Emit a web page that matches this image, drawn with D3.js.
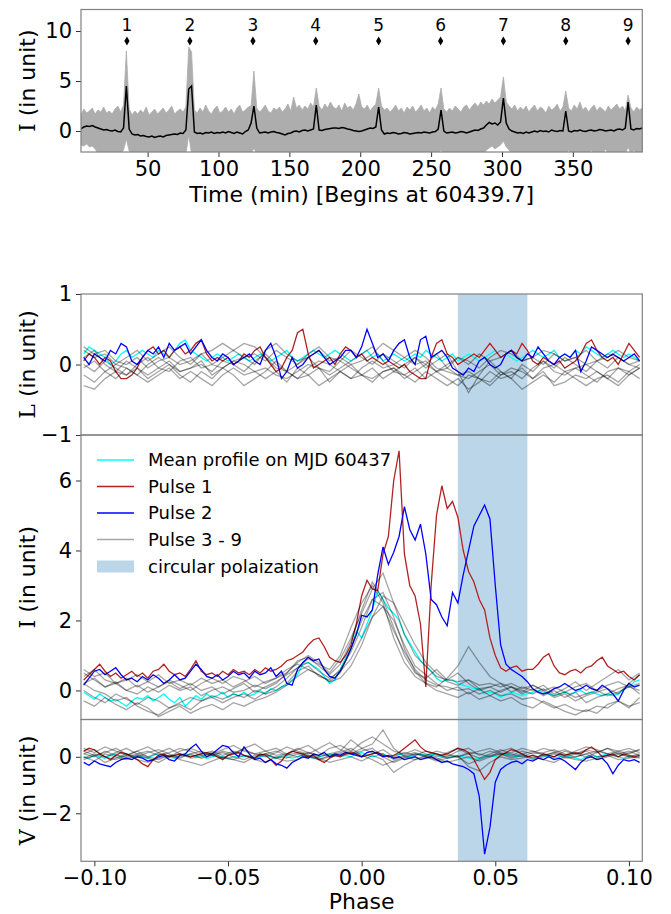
<!DOCTYPE html>
<html><head><meta charset="utf-8">
<script src="https://cdn.jsdelivr.net/npm/d3@7"></script>
<style>
body{margin:0;background:#fff;}
svg text{font-family:"DejaVu Sans",sans-serif;fill:#000;}
</style></head><body>
<svg id="fig" width="671" height="914"></svg>
<script>
// ---------- top panel: intensity time series ----------
const timeStart = 3, timeStep = 2;           // minutes, sampling of the series below
const burstTimes = [35.4, 79.8, 124.3, 168.6, 213, 256.7, 301, 345, 389];
const burstLabels = ["1","2","3","4","5","6","7","8","9"];
const burstMarkerLevel = 9;
const burstLabelLevel = 10;
const timeTicks = [50,100,150,200,250,300,350];
const topYTicks = [0,5,10];

const runningMean = [
 0.2,0.4,0.5,0.45,0.55,0.4,0.3,0.2,0.1,0.15,
 0.05,0.0,0.1,-0.05,-0.1,0.3,4.5,0.2,-0.3,-0.4,
 -0.35,-0.5,-0.45,-0.55,-0.6,-0.5,-0.65,-0.55,-0.5,-0.6,
 -0.45,-0.4,-0.35,-0.3,-0.35,-0.2,-0.25,0.1,4.2,4.5,
 -0.1,-0.25,-0.2,-0.3,-0.15,-0.2,-0.1,-0.25,-0.15,-0.2,
 -0.1,-0.2,-0.05,-0.15,-0.25,-0.1,-0.2,-0.3,-0.05,0.1,
 0.8,2.5,0.3,-0.2,-0.15,-0.1,-0.2,-0.1,-0.05,-0.15,
 -0.2,-0.3,-0.4,-0.25,-0.2,-0.05,0.0,-0.1,0.05,0.1,
 0.0,0.1,0.2,2.6,0.1,0.05,0.15,0.2,0.25,0.3,
 0.3,0.25,0.35,0.3,0.2,0.15,0.05,0.0,-0.05,0.0,
 0.1,0.2,0.3,0.25,0.4,2.4,0.1,-0.3,-0.2,-0.25,
 -0.15,-0.2,-0.3,-0.25,-0.15,-0.2,-0.3,-0.25,-0.2,-0.15,
 -0.2,-0.1,-0.15,-0.2,-0.1,-0.05,0.2,2.1,0.0,-0.2,
 -0.15,-0.1,-0.2,-0.15,-0.05,-0.1,-0.2,-0.1,0.0,0.1,
 0.05,0.2,0.3,0.6,0.85,0.7,0.8,0.6,0.9,3.3,
 0.8,0.2,0.0,-0.1,-0.2,-0.15,-0.25,-0.1,-0.2,-0.1,
 0.0,-0.1,0.05,-0.05,0.0,-0.1,0.1,0.0,-0.05,0.05,
 0.0,2.0,0.0,-0.1,0.05,0.0,0.1,0.0,-0.05,0.05,
 0.1,0.0,0.05,0.15,0.1,0.0,0.05,0.1,0.0,0.15,
 0.2,0.1,0.3,2.9,0.2,0.1,0.25,0.2,0.3
];
const rawUpper = [
 1.6,2.2,1.8,2.0,2.3,1.7,2.1,1.9,2.4,1.8,
 2.0,1.7,2.2,2.5,1.9,2.6,8.0,2.2,1.6,2.0,
 1.7,2.1,1.8,2.4,1.6,1.9,2.2,1.7,2.0,2.3,
 1.8,2.1,2.5,1.7,2.0,2.2,1.9,2.4,8.4,7.9,
 2.1,1.8,2.3,1.9,2.6,2.0,1.7,2.2,2.5,1.8,
 2.0,2.4,1.9,2.2,1.7,2.3,2.6,1.9,2.1,2.4,
 2.5,6.0,2.3,1.9,2.2,2.6,2.0,1.8,2.3,2.1,
 2.4,1.9,2.2,2.7,2.0,3.4,2.3,2.6,2.1,2.5,
 2.2,2.8,2.4,4.3,2.5,2.1,2.7,2.3,2.9,2.4,
 2.2,2.6,2.0,2.8,2.3,2.5,2.1,2.7,3.7,2.4,
 2.2,2.6,2.0,2.4,2.7,4.3,2.5,2.1,2.3,1.9,
 2.2,2.6,2.0,2.3,1.8,2.4,2.1,2.5,1.9,2.2,
 2.6,2.0,2.3,1.8,2.4,2.1,2.7,4.3,2.2,1.9,
 2.3,2.0,2.5,2.2,1.9,2.4,2.6,2.1,2.5,2.8,
 2.4,2.9,2.6,3.0,2.7,3.2,2.8,3.1,3.4,5.4,
 2.9,2.5,2.2,2.6,2.0,2.4,2.1,2.5,1.9,2.3,
 2.6,2.0,2.4,2.2,1.8,2.5,2.1,2.3,2.7,2.0,
 2.4,4.0,2.3,2.0,2.6,2.2,2.9,2.1,2.4,1.9,
 2.3,2.6,2.0,2.4,2.2,1.9,2.5,2.1,2.4,2.7,
 2.2,2.5,2.0,3.6,2.3,1.9,2.4,2.1,2.3
];
const rawLower = [
 -1.4,-1.5,-1.3,-1.6,-1.5,-1.8,-2.3,-2.3,-2.3,-2.3,
 -2.3,-2.3,-2.3,-2.3,-2.3,-1.9,-0.8,-2.0,-2.3,-2.3,
 -2.3,-2.3,-2.3,-2.3,-2.3,-2.3,-2.3,-2.3,-2.3,-2.3,
 -2.3,-2.3,-2.3,-2.3,-2.3,-2.3,-2.3,-2.3,-0.4,-2.3,
 -2.3,-2.3,-2.3,-2.3,-2.3,-2.3,-2.3,-2.3,-2.3,-2.3,
 -2.3,-2.3,-2.3,-2.3,-2.3,-2.3,-2.3,-2.3,-2.3,-2.3,
 -2.3,-1.7,-2.3,-2.3,-2.3,-2.3,-2.3,-2.3,-2.3,-2.3,
 -2.3,-2.3,-2.3,-2.3,-2.3,-2.3,-2.3,-2.3,-2.3,-2.3,
 -2.3,-2.3,-2.3,-2.3,-2.3,-2.3,-2.3,-2.3,-2.3,-2.3,
 -2.3,-2.3,-2.3,-2.3,-2.3,-2.3,-2.3,-2.3,-2.3,-2.3,
 -2.3,-2.3,-2.3,-2.3,-2.3,-2.3,-2.3,-2.3,-2.3,-2.3,
 -2.3,-2.3,-2.3,-2.3,-2.3,-2.3,-2.3,-2.3,-2.3,-2.3,
 -2.3,-2.3,-2.3,-2.3,-2.3,-2.3,-2.3,-1.9,-2.3,-2.3,
 -2.3,-2.3,-2.3,-2.3,-2.3,-2.3,-2.3,-2.3,-2.3,-2.3,
 -2.3,-2.3,-2.3,-1.9,-1.7,-1.5,-1.8,-1.6,-1.4,-1.0,
 -1.6,-1.9,-2.3,-2.3,-2.3,-2.3,-2.3,-2.3,-2.3,-2.3,
 -2.3,-2.3,-2.3,-2.3,-2.3,-2.3,-2.3,-2.3,-2.3,-2.3,
 -2.3,-2.3,-1.9,-2.3,-2.3,-2.3,-2.3,-2.3,-2.3,-2.3,
 -1.9,-2.3,-2.3,-2.3,-2.3,-1.8,-2.3,-2.3,-2.3,-2.3,
 -2.3,-2.3,-2.3,-1.6,-2.3,-1.9,-2.3,-2.3,-2.3
];

// ---------- lower panels: phase-resolved L, I, V ----------
const phaseFineStart = -0.104, phaseFineStep = 0.002;     // pulse 1, pulse 2, mean
const phaseCoarseStart = -0.104, phaseCoarseStep = 0.004; // pulses 3-9
const phaseTicks = [-0.10,-0.05,0.00,0.05,0.10];
const circPolRange = [0.036, 0.062];
const lTicks = [-1,0,1], iTicks = [0,2,4,6], vTicks = [-2,0];
const legendLabels = ["Mean profile on MJD 60437","Pulse 1","Pulse 2","Pulse 3 - 9","circular polaization"];

const I_mean = [
 -0.05,-0.15,-0.25,-0.1,-0.2,-0.3,-0.25,-0.35,-0.45,-0.3,
 -0.2,-0.25,-0.15,-0.3,-0.2,-0.1,-0.25,-0.35,-0.2,-0.45,
 -0.3,-0.15,-0.25,-0.1,-0.2,-0.15,-0.05,-0.2,-0.1,-0.15,
 -0.05,-0.15,-0.1,0.0,-0.1,0.05,0.0,0.1,0.15,0.3,
 0.45,0.75,0.8,0.7,0.6,0.4,0.2,0.3,0.6,0.95,
 1.2,1.7,1.5,1.9,2.3,2.85,2.6,2.35,2.2,2.0,
 1.6,1.35,1.1,0.85,0.7,0.55,0.35,0.25,0.3,0.3,
 0.2,0.15,0.1,0.05,0.05,-0.1,-0.05,-0.1,-0.2,-0.1,
 -0.05,-0.1,-0.15,-0.1,-0.05,0.0,-0.05,-0.1,-0.15,-0.1,
 -0.05,-0.1,-0.05,0.0,-0.1,-0.05,-0.1,-0.15,-0.1,-0.15,
 -0.1,0.05,0.1,0.25,0.3
];
const I_pulse1 = [
 0.3,0.45,0.6,0.75,0.55,0.4,0.5,0.35,0.45,0.55,
 0.4,0.5,0.35,0.55,0.6,0.75,0.55,0.45,0.5,0.4,
 0.6,0.85,0.55,0.45,0.5,0.4,0.55,0.45,0.6,0.5,
 0.55,0.45,0.6,0.5,0.65,0.55,0.6,0.7,0.85,0.9,
 1.0,1.1,1.3,1.45,1.5,1.25,0.95,0.85,0.8,1.0,
 1.3,1.9,2.7,3.15,2.9,2.85,3.9,4.4,6.0,6.85,
 3.9,3.0,2.7,1.9,0.1,3.0,5.0,5.85,5.2,5.4,
 4.95,4.0,3.4,3.1,2.6,2.3,1.5,1.0,0.65,0.55,
 0.65,0.7,0.55,0.6,0.6,0.75,0.95,1.05,0.7,0.5,
 0.45,0.55,0.6,0.5,0.65,0.7,0.85,0.95,0.7,0.6,
 0.5,0.55,0.4,0.3,0.45
];
const I_pulse2 = [
 0.15,0.35,0.55,0.6,0.45,0.55,0.65,0.45,0.3,0.35,
 0.25,0.4,0.3,0.45,0.35,0.2,0.3,0.45,0.3,0.35,
 0.55,0.75,0.6,0.4,0.35,0.45,0.3,0.4,0.55,0.45,
 0.5,0.35,0.55,0.45,0.5,0.65,0.4,0.55,0.2,0.15,
 0.6,0.8,0.95,0.85,0.9,0.6,0.4,0.35,0.55,0.85,
 1.2,1.6,2.15,2.1,2.3,3.3,4.1,3.6,3.95,4.4,
 5.25,4.6,4.3,4.75,3.9,2.6,2.45,2.1,1.85,2.8,
 2.5,3.3,4.0,4.7,5.0,5.3,4.9,3.0,1.3,0.75,
 0.6,0.5,0.4,0.25,0.05,-0.05,-0.1,-0.05,0.05,0.1,
 0.2,0.1,0.0,0.05,0.15,0.05,0.0,0.15,0.05,-0.1,
 -0.3,0.0,0.2,0.1,0.15
];
const I_rest = [
 [0.4,0.6,0.3,0.2,0.35,0.1,0.25,0.45,0.2,0.3,0.15,0.35,0.2,
  0.3,0.1,0.25,0.4,0.2,0.35,0.5,0.8,1.0,0.8,0.5,0.9,1.5,
  2.2,2.9,3.35,2.5,1.6,1.0,0.7,0.4,0.3,0.25,0.3,0.15,0.2,
  0.1,0.2,0.05,0.15,0.0,0.1,-0.05,0.1,0.2,0.0,0.15,0.25,0.1,0.2],
 [0.0,-0.2,-0.35,-0.1,-0.25,-0.4,-0.2,-0.3,-0.5,-0.35,-0.2,-0.3,-0.15,
  -0.25,-0.1,-0.2,0.0,-0.1,0.0,0.2,0.55,0.7,0.4,0.3,0.6,1.1,
  1.8,2.6,2.4,1.7,1.1,0.6,0.3,0.15,0.1,0.0,0.05,-0.1,0.0,
  -0.15,-0.1,-0.25,-0.2,-0.35,-0.5,-0.4,-0.55,-0.6,-0.45,-0.5,-0.3,-0.45,-0.35],
 [0.2,0.0,-0.1,-0.3,-0.2,-0.45,-0.6,-0.7,-0.5,-0.4,-0.55,-0.3,-0.2,
  -0.35,-0.2,-0.1,-0.25,-0.05,0.1,0.35,0.65,0.9,0.75,0.6,1.0,1.8,
  2.5,3.0,2.5,1.5,0.8,0.4,0.2,0.1,0.35,0.7,1.25,0.8,0.4,
  0.2,0.1,0.0,-0.1,0.05,-0.15,-0.05,-0.2,-0.1,0.0,-0.15,-0.05,0.1,0.0],
 [0.5,0.3,0.1,0.2,0.0,0.15,-0.05,0.1,0.25,0.05,0.2,0.0,0.1,
  -0.1,0.05,0.2,-0.05,0.1,0.25,0.45,0.65,0.8,0.55,0.35,0.55,0.9,
  1.5,2.1,2.4,2.0,1.3,0.7,0.45,0.2,0.0,0.1,-0.1,0.05,-0.15,
  0.0,0.1,-0.05,0.15,0.0,-0.2,-0.1,-0.3,-0.15,-0.05,0.05,-0.1,0.2,0.45],
 [-0.3,-0.45,-0.2,-0.4,-0.55,-0.35,-0.5,-0.75,-0.6,-0.45,-0.65,-0.5,-0.4,
  -0.55,-0.35,-0.45,-0.3,-0.2,-0.05,0.15,0.4,0.6,0.45,0.25,0.5,1.2,
  2.0,2.6,2.8,2.1,1.2,0.55,0.2,0.0,-0.1,-0.2,-0.05,-0.25,-0.15,
  -0.3,-0.2,-0.4,-0.5,-0.3,-0.45,-0.6,-0.7,-0.55,-0.65,-0.4,-0.3,-0.5,-0.2],
 [0.2,0.35,0.1,0.25,0.0,-0.1,0.1,-0.05,0.15,0.0,0.1,-0.15,0.0,
  0.1,-0.05,0.0,0.15,0.05,0.2,0.5,0.85,0.95,0.7,0.45,0.75,1.4,
  2.3,3.1,2.6,1.8,1.0,0.5,0.35,0.6,0.3,0.5,0.2,0.0,0.1,
  -0.05,0.1,-0.1,0.05,-0.15,0.0,-0.2,-0.05,-0.35,-0.2,-0.1,0.05,0.15,-0.1],
 [0.6,0.4,0.5,0.2,0.3,0.45,0.25,0.1,0.3,0.15,0.0,0.2,0.35,
  0.2,0.4,0.3,0.1,0.25,0.35,0.6,0.75,0.6,0.45,0.25,0.35,0.7,
  1.3,2.1,2.7,2.5,1.9,1.3,0.8,0.5,0.25,0.15,0.3,0.05,0.1,
  0.2,-0.05,0.1,0.0,0.15,-0.1,0.05,0.25,0.0,0.2,0.4,0.6,0.3,0.5]
];

const L_mean = [
 0.15,0.25,0.2,0.15,0.1,0.0,0.05,0.15,0.2,0.1,
 0.15,0.2,0.15,0.1,0.2,0.15,0.1,0.2,0.3,0.35,
 0.2,0.15,0.1,0.05,0.1,0.15,0.1,0.05,0.1,0.15,
 0.1,0.05,0.1,0.15,0.1,0.05,0.1,0.15,0.2,0.1,
 0.05,0.1,0.15,0.2,0.15,0.1,0.15,0.2,0.15,0.1,
 0.05,0.1,0.15,0.2,0.1,0.15,0.05,0.1,0.15,0.1,
 0.05,0.1,0.15,0.1,0.2,0.15,0.1,0.05,0.1,0.15,
 0.05,0.1,0.15,0.1,0.05,0.1,0.15,0.2,0.1,0.15,
 0.1,0.05,0.1,0.15,0.2,0.15,0.1,0.15,0.2,0.1,
 0.15,0.1,0.2,0.15,0.25,0.2,0.15,0.1,0.15,0.2,
 0.15,0.1,0.15,0.1,0.05
];
const L_pulse1 = [
 0.05,0.15,0.1,0.0,0.1,0.05,-0.1,-0.2,-0.2,-0.15,
 -0.05,0.1,0.2,0.25,0.15,0.2,0.1,0.2,0.25,0.15,
 0.2,0.3,0.35,0.15,0.05,0.1,0.05,0.1,0.0,0.05,
 0.15,0.1,0.2,0.25,0.1,0.0,-0.1,-0.05,0.1,0.2,
 0.45,0.5,0.15,-0.05,0.0,0.05,0.1,0.0,0.15,0.25,
 0.2,0.1,0.15,0.05,0.1,0.05,0.0,0.05,0.0,-0.05,
 0.0,-0.1,-0.15,-0.2,-0.2,0.1,0.3,0.35,0.15,0.1,
 0.0,0.05,0.1,0.15,0.1,0.2,0.3,0.2,0.1,0.15,
 0.2,0.15,0.3,0.2,0.05,0.0,0.1,0.05,0.0,0.05,
 -0.05,0.0,0.05,0.15,0.3,0.35,0.2,0.1,0.05,0.1,
 0.0,0.15,0.3,0.2,0.1
];
const L_pulse2 = [
 0.1,0.0,0.15,0.1,0.05,0.2,0.15,0.3,0.25,0.05,
 0.0,0.1,0.2,0.15,0.25,0.1,0.3,0.2,0.25,0.3,
 0.15,0.25,0.35,0.2,0.1,0.05,0.15,0.1,0.0,0.05,
 0.1,0.15,0.05,0.0,0.2,0.3,0.1,-0.2,-0.1,0.1,
 -0.05,0.0,0.1,0.15,0.2,0.1,0.0,0.05,0.1,0.2,
 0.2,0.1,0.25,0.5,0.3,0.1,0.15,0.05,0.2,0.3,
 0.35,0.1,0.0,0.35,0.4,0.1,0.15,0.2,0.1,-0.05,
 -0.1,-0.15,-0.05,-0.1,0.05,0.1,0.0,-0.05,0.0,0.15,
 0.2,0.1,0.05,0.15,0.1,0.25,0.15,0.05,0.0,0.1,
 0.15,0.1,0.2,-0.1,0.05,0.25,0.2,0.15,0.1,0.15,
 0.1,0.05,0.1,0.15,0.05
];
const L_rest = [
 [0.2,0.1,0.15,0.0,0.1,0.2,0.05,0.15,0.25,0.1,
  0.0,0.15,0.2,0.3,0.2,0.1,0.15,0.05,0.2,0.1,
  0.0,0.15,0.25,0.1,0.05,0.2,0.1,0.0,0.15,0.05,
  -0.05,0.1,0.0,0.15,-0.05,0.1,0.0,0.15,0.05,0.1,
  0.2,0.05,0.1,0.0,0.15,0.05,0.1,0.2,0.05,0.15,
  0.1,0.0,0.05],
 [-0.3,-0.35,-0.2,-0.1,-0.15,-0.05,-0.2,-0.1,0.0,-0.15,
  -0.25,-0.1,-0.2,-0.05,-0.15,-0.3,-0.2,-0.1,0.05,-0.1,
  -0.2,-0.15,-0.05,-0.25,-0.1,0.0,-0.15,-0.2,-0.1,-0.05,
  -0.15,-0.25,-0.1,-0.2,-0.3,-0.2,-0.35,-0.25,-0.1,-0.2,
  -0.15,-0.05,-0.2,-0.1,-0.3,-0.25,-0.15,-0.2,-0.1,-0.2,
  -0.3,-0.15,-0.05],
 [0.0,-0.1,0.05,-0.05,-0.15,0.0,0.1,-0.05,-0.1,0.05,
  0.1,-0.05,0.0,0.1,0.2,0.3,0.25,0.1,-0.05,-0.1,
  0.0,0.1,-0.05,-0.15,-0.05,0.05,0.15,0.25,0.05,-0.1,
  0.0,0.1,-0.05,0.05,0.15,-0.1,-0.4,-0.15,0.05,-0.1,
  -0.2,0.0,-0.1,0.05,-0.05,0.1,0.0,-0.1,0.05,-0.05,
  0.1,0.0,-0.05],
 [0.1,0.2,0.0,-0.1,0.05,-0.05,-0.15,-0.05,0.05,-0.1,
  -0.05,0.0,-0.1,0.05,0.0,-0.1,0.05,0.15,0.0,-0.1,
  -0.2,-0.05,0.05,0.0,-0.1,-0.2,-0.05,0.05,-0.05,0.0,
  0.1,0.2,0.1,-0.05,-0.1,-0.15,-0.2,-0.1,0.0,-0.15,
  -0.1,-0.2,-0.05,0.05,-0.1,-0.15,-0.05,0.0,-0.1,-0.2,
  -0.05,-0.1,0.0],
 [-0.15,-0.25,-0.1,-0.2,-0.05,-0.15,-0.25,-0.15,-0.05,-0.2,
  -0.1,-0.2,-0.3,-0.15,-0.05,-0.15,-0.1,-0.2,-0.1,-0.25,
  -0.05,-0.15,-0.3,-0.2,-0.1,-0.2,-0.15,-0.05,-0.2,-0.1,
  -0.15,-0.05,-0.2,-0.1,-0.2,-0.3,-0.15,-0.2,-0.25,-0.1,
  -0.2,-0.35,-0.25,-0.15,-0.25,-0.1,-0.2,-0.3,-0.2,-0.15,
  -0.25,-0.1,-0.2],
 [0.25,0.15,0.2,0.05,0.0,0.1,-0.05,0.05,0.1,0.0,
  0.05,0.15,0.0,-0.05,0.05,0.1,0.0,0.2,0.3,0.15,
  0.05,0.1,0.2,0.05,0.1,0.0,0.05,0.15,0.3,0.2,
  0.1,0.0,0.05,-0.1,0.0,0.1,0.05,-0.05,0.1,0.2,
  0.15,0.05,0.1,0.2,0.15,0.05,0.1,0.0,0.05,0.1,
  0.2,0.1,0.05],
 [-0.05,0.05,-0.1,0.0,-0.05,-0.15,0.0,0.1,0.0,-0.1,
  -0.05,0.05,-0.15,-0.05,0.05,0.0,-0.1,-0.05,-0.15,-0.2,
  -0.1,0.0,-0.05,-0.1,0.05,-0.05,-0.15,-0.25,-0.1,-0.05,
  -0.2,-0.1,0.0,-0.1,-0.05,-0.15,-0.1,-0.2,-0.3,-0.15,
  -0.05,-0.1,-0.2,-0.05,0.0,-0.1,-0.05,-0.15,-0.25,-0.1,
  -0.05,-0.15,-0.05]
];

const V_mean = [
 0.0,-0.05,0.05,0.0,-0.05,0.05,0.1,0.0,-0.05,0.0,
 0.05,0.0,-0.05,0.05,0.1,0.05,0.0,-0.05,0.05,0.1,
 0.05,0.0,0.05,-0.05,0.0,0.05,0.0,-0.05,0.0,0.05,
 0.0,0.05,-0.05,0.0,0.05,0.0,-0.05,0.05,0.0,-0.05,
 0.0,0.05,0.0,-0.05,0.0,0.05,0.1,0.05,0.0,0.05,
 0.0,0.1,0.15,0.05,0.0,0.05,0.1,0.0,0.05,0.1,
 0.05,0.0,0.05,0.1,0.05,0.1,0.05,0.0,-0.05,0.0,
 0.05,0.0,-0.05,-0.1,-0.05,0.0,0.05,0.0,0.05,0.1,
 0.05,0.0,0.05,0.0,-0.05,0.0,0.05,0.0,-0.05,0.0,
 0.05,0.0,-0.05,-0.1,0.0,0.05,0.0,0.05,0.1,0.05,
 0.0,-0.05,0.0,0.05,0.0
];
const V_pulse1 = [
 0.2,0.3,0.25,0.1,0.0,-0.1,0.05,0.15,0.1,0.0,
 -0.1,-0.25,-0.35,-0.1,0.05,0.1,0.0,0.05,0.1,0.05,
 0.0,0.05,0.1,0.15,0.1,0.0,-0.1,0.05,0.1,0.15,
 0.05,0.0,-0.05,0.1,0.05,-0.1,-0.3,-0.15,0.1,0.2,
 0.15,0.1,0.0,0.05,-0.1,-0.2,-0.05,0.05,0.0,0.1,
 0.15,0.1,0.0,0.05,0.1,0.15,0.05,0.0,0.05,0.15,
 0.3,0.45,0.6,0.35,0.2,0.15,0.1,0.05,0.1,0.2,
 0.3,0.25,0.15,-0.1,-0.45,-0.8,-0.55,-0.1,0.05,0.15,
 0.25,0.2,0.1,0.0,0.05,0.0,0.1,0.05,0.0,0.1,
 0.05,0.1,0.15,0.1,0.25,0.35,0.2,0.0,0.05,0.1,
 0.0,0.1,0.05,0.0,0.05
];
const V_pulse2 = [
 -0.2,-0.3,-0.15,-0.25,-0.3,-0.35,-0.2,-0.1,-0.05,-0.1,
 0.0,-0.05,-0.15,-0.1,0.0,0.05,-0.1,-0.15,0.05,0.1,
 0.3,0.45,0.2,0.0,0.1,0.25,0.4,0.35,0.15,0.0,
 0.35,0.1,-0.1,-0.05,-0.2,-0.1,-0.25,-0.3,-0.4,-0.2,
 -0.1,0.0,-0.05,0.1,0.05,0.15,0.0,0.1,0.05,0.15,
 0.1,0.05,0.0,0.15,0.2,0.1,0.0,0.05,-0.05,0.0,
 -0.1,-0.05,0.0,-0.1,-0.05,0.0,-0.1,-0.2,-0.15,-0.25,
 -0.3,-0.35,-0.45,-0.6,-1.4,-3.45,-2.5,-0.9,-0.45,-0.3,
 -0.2,-0.15,-0.25,-0.1,-0.15,-0.05,-0.1,0.0,-0.1,-0.05,
 -0.15,-0.3,-0.45,-0.2,-0.05,0.0,-0.1,-0.05,-0.25,-0.6,
 -0.3,-0.1,-0.15,-0.1,-0.2
];
const V_rest = [
 [0.1,0.25,0.0,0.15,0.3,0.1,0.2,0.05,0.15,0.3,
  0.2,0.05,0.1,0.25,0.4,0.2,0.1,0.0,0.15,0.35,
  0.2,0.1,0.3,0.5,0.25,0.1,0.3,0.45,0.95,0.3,
  0.0,0.1,0.05,0.2,0.1,0.0,0.15,0.1,0.0,0.2,
  0.3,0.1,0.2,0.05,0.15,0.25,0.1,0.0,0.15,0.3,
  0.2,0.1,0.25],
 [-0.1,0.05,-0.2,-0.05,0.1,-0.1,-0.2,-0.05,0.05,-0.1,
  -0.2,-0.3,-0.15,0.0,-0.1,-0.2,0.0,0.1,-0.05,-0.15,
  -0.1,0.05,-0.05,-0.2,-0.1,0.0,-0.15,0.05,-0.1,-0.55,
  -0.3,-0.1,0.0,-0.15,-0.05,0.05,-0.35,-0.5,-0.2,0.0,
  -0.1,-0.05,0.05,-0.1,-0.2,0.0,-0.1,-0.15,-0.05,0.05,
  -0.1,-0.05,0.0],
 [0.3,0.15,0.35,0.2,0.05,0.2,0.35,0.15,0.0,0.2,
  0.3,0.15,0.05,0.2,0.1,0.3,0.45,0.2,0.05,0.1,
  0.25,0.4,0.15,0.0,0.1,0.2,0.5,0.7,0.45,0.2,
  0.1,0.25,0.1,0.0,0.15,0.3,0.1,-0.05,0.1,0.25,
  0.1,0.0,0.15,0.3,0.2,0.05,0.2,0.35,0.25,0.1,
  0.2,0.3,0.15],
 [0.0,-0.15,0.1,0.0,-0.1,0.05,-0.05,-0.2,0.0,0.1,
  -0.05,0.0,0.15,-0.05,-0.1,0.05,-0.1,-0.2,0.0,-0.05,
  0.1,0.0,-0.1,0.05,0.15,0.3,0.05,-0.1,-0.3,-0.15,
  0.0,-0.1,0.05,-0.05,-0.2,-0.1,0.0,-0.15,0.0,0.1,
  -0.05,0.05,-0.1,0.0,0.1,-0.05,0.0,0.1,-0.1,0.0,
  0.1,0.0,-0.05],
 [0.2,0.05,0.15,0.3,0.1,0.0,0.15,0.25,0.1,-0.05,
  0.1,0.2,0.05,-0.05,0.15,0.25,0.1,0.2,0.3,0.1,
  0.0,0.15,0.05,0.3,0.4,0.2,0.0,0.1,0.25,0.0,
  0.15,0.05,0.2,0.1,0.0,0.2,0.3,0.05,0.2,0.1,
  0.15,0.3,0.2,0.1,0.0,0.2,0.1,0.25,0.15,0.3,
  0.1,0.2,0.05],
 [-0.05,0.1,0.0,-0.1,0.05,0.2,0.0,-0.1,0.05,0.0,
  0.1,-0.05,0.05,0.15,0.0,-0.1,0.05,0.1,-0.05,0.05,
  0.15,0.05,-0.1,0.0,0.05,0.1,0.2,0.3,0.0,-0.2,
  -0.05,0.1,0.0,-0.1,0.05,0.0,-0.25,-0.1,0.05,0.1,
  0.0,0.1,-0.05,0.05,0.15,0.0,0.1,0.2,0.0,0.05,
  0.15,0.0,0.1],
 [0.1,0.0,0.2,0.05,0.0,0.1,0.0,0.15,0.3,0.1,
  0.0,0.1,0.2,0.05,0.2,0.05,-0.05,0.1,0.2,0.05,
  0.3,0.15,0.0,0.1,0.2,0.6,0.3,0.15,0.1,-0.1,
  0.05,0.15,0.0,0.1,-0.05,0.0,0.1,0.2,0.3,0.15,
  0.05,0.2,0.1,0.15,0.25,0.1,0.0,0.1,0.2,0.1,
  0.0,0.15,0.25]
];

// ---------- drawing ----------
const COL = {mean:"#00ffff", p1:"#b22222", p2:"#0000ff", rest:"#000000", band:"#1f77b4", raw:"#adadad"};
const REST_ALPHA = 0.35;
const svg = d3.select("#fig");
const X0 = 81, X1 = 642.3;
const TICK_FS = 21, LABEL_FS = 22, LEGEND_FS = 18;

const xTime = d3.scaleLinear().domain([3, 399]).range([X0, X1]);
const yTop = d3.scaleLinear().domain([-2.1, 12.15]).range([152, 9.5]);
const xPhase = d3.scaleLinear().domain([-0.105, 0.105]).range([X0, X1]);
const yL = d3.scaleLinear().domain([-1, 1]).range([435, 294]);
const yI = d3.scaleLinear().domain([-0.83, 7.3]).range([719.5, 435]);
const yV = d3.scaleLinear().domain([-3.7, 1.32]).range([861.3, 719.5]);

const defs = svg.append("defs");
function clip(id, y0, y1) {
  defs.append("clipPath").attr("id", id).append("rect")
    .attr("x", X0).attr("y", y0).attr("width", X1 - X0).attr("height", y1 - y0);
  return svg.append("g").attr("clip-path", `url(#${id})`);
}
function styleAxis(g) {
  g.select(".domain").remove();
  g.selectAll(".tick line").attr("stroke", "#333").attr("stroke-width", 1);
  g.selectAll(".tick text").attr("font-size", TICK_FS).attr("font-family", "DejaVu Sans").attr("fill", "#000");
}
function frame(y0, y1) {
  svg.append("rect").attr("x", X0).attr("y", y0).attr("width", X1 - X0).attr("height", y1 - y0)
    .attr("fill", "none").attr("stroke", "#808080").attr("stroke-width", 1.2);
}
function yLabel(letter, cy) {
  const t = svg.append("text").attr("transform", `translate(35,${cy}) rotate(-90)`)
    .attr("text-anchor", "middle").attr("font-size", LABEL_FS);
  t.append("tspan").attr("font-family", "DejaVu Serif").text(letter);
  t.append("tspan").text(" (in unit)");
}

// top panel
const gTop = clip("clipTop", yTop.range()[1], yTop.range()[0]);
const idxT = d3.range(runningMean.length);
const tOf = i => timeStart + timeStep * i;
gTop.append("path").datum(idxT)
  .attr("d", d3.area().x(i => xTime(tOf(i))).y0(i => yTop(rawLower[i])).y1(i => yTop(rawUpper[i])))
  .attr("fill", COL.raw).attr("stroke", COL.raw).attr("stroke-width", 0.8);
gTop.append("path").datum(idxT)
  .attr("d", d3.line().x(i => xTime(tOf(i))).y(i => yTop(runningMean[i])))
  .attr("fill", "none").attr("stroke", "#000").attr("stroke-width", 1.5);
svg.selectAll(".burstMark").data(burstTimes).join("path")
  .attr("transform", d => `translate(${xTime(d)},${yTop(burstMarkerLevel)})`)
  .attr("d", "M0,-4.5L2.6,0L0,4.5L-2.6,0Z").attr("fill", "#000");
svg.selectAll(".burstLab").data(burstTimes).join("text")
  .attr("x", d => xTime(d)).attr("y", yTop(burstLabelLevel)).attr("text-anchor", "middle")
  .attr("font-size", 17).text((d, i) => burstLabels[i]);
svg.append("g").attr("transform", `translate(0,${yTop.range()[0]})`)
  .call(d3.axisBottom(xTime).tickValues(timeTicks).tickSize(5).tickPadding(4).tickFormat(d3.format("d"))).call(styleAxis);
svg.append("g").attr("transform", `translate(${X0},0)`)
  .call(d3.axisLeft(yTop).tickValues(topYTicks).tickSize(5).tickPadding(4).tickFormat(d3.format("d"))).call(styleAxis);
frame(yTop.range()[1], yTop.range()[0]);
yLabel("I", (yTop.range()[0] + yTop.range()[1]) / 2);
svg.append("text").attr("x", (X0 + X1) / 2).attr("y", 202).attr("text-anchor", "middle")
  .attr("font-size", LABEL_FS).text("Time (min) [Begins at 60439.7]");

// phase panels
const fineIdx = d3.range(I_mean.length);
const coarseIdx = d3.range(I_rest[0].length);
const pFine = i => phaseFineStart + phaseFineStep * i;
const pCoarse = i => phaseCoarseStart + phaseCoarseStep * i;

function phasePanel(id, yScale, mean, p1, p2, rest, ticks, letter) {
  const [yb, yt] = yScale.range();
  const g = clip(id, yt, yb);
  g.append("rect").attr("x", xPhase(circPolRange[0])).attr("y", yt)
    .attr("width", xPhase(circPolRange[1]) - xPhase(circPolRange[0])).attr("height", yb - yt)
    .attr("fill", COL.band).attr("fill-opacity", 0.3);
  const fineLine = arr => d3.line().x(i => xPhase(pFine(i))).y(i => yScale(arr[i]))(fineIdx);
  const coarseLine = arr => d3.line().x(i => xPhase(pCoarse(i))).y(i => yScale(arr[i]))(coarseIdx);
  g.append("path").attr("d", fineLine(mean)).attr("fill", "none").attr("stroke", COL.mean).attr("stroke-width", 1.3);
  g.append("path").attr("d", fineLine(p1)).attr("fill", "none").attr("stroke", COL.p1).attr("stroke-width", 1.3);
  g.append("path").attr("d", fineLine(p2)).attr("fill", "none").attr("stroke", COL.p2).attr("stroke-width", 1.3);
  rest.forEach(arr => g.append("path").attr("d", coarseLine(arr)).attr("fill", "none")
    .attr("stroke", COL.rest).attr("stroke-opacity", REST_ALPHA).attr("stroke-width", 1.3));
  svg.append("g").attr("transform", `translate(${X0},0)`)
    .call(d3.axisLeft(yScale).tickValues(ticks).tickSize(5).tickPadding(4).tickFormat(d3.format("d"))).call(styleAxis);
  frame(yt, yb);
  yLabel(letter, (yt + yb) / 2);
}
phasePanel("clipL", yL, L_mean, L_pulse1, L_pulse2, L_rest, lTicks, "L");
phasePanel("clipI", yI, I_mean, I_pulse1, I_pulse2, I_rest, iTicks, "I");
phasePanel("clipV", yV, V_mean, V_pulse1, V_pulse2, V_rest, vTicks, "V");

svg.append("g").attr("transform", `translate(0,${yV.range()[0]})`)
  .call(d3.axisBottom(xPhase).tickValues(phaseTicks).tickSize(5).tickPadding(4).tickFormat(d3.format(".2f"))).call(styleAxis);
svg.append("text").attr("x", (X0 + X1) / 2).attr("y", 909).attr("text-anchor", "middle")
  .attr("font-size", LABEL_FS).text("Phase");

// legend in the I panel
const legColors = [COL.mean, COL.p1, COL.p2, COL.rest];
const legY = [460, 486.5, 513, 539.5, 566.5];
const leg = svg.append("g");
legendLabels.forEach((lab, k) => {
  if (k < 4) {
    leg.append("line").attr("x1", 97).attr("x2", 134).attr("y1", legY[k]).attr("y2", legY[k])
      .attr("stroke", legColors[k]).attr("stroke-width", 1.3).attr("stroke-opacity", k === 3 ? REST_ALPHA : 1);
  } else {
    leg.append("rect").attr("x", 97).attr("y", legY[k] - 6).attr("width", 37).attr("height", 12)
      .attr("fill", COL.band).attr("fill-opacity", 0.3);
  }
  leg.append("text").attr("x", 148).attr("y", legY[k]).attr("dy", "0.35em").attr("font-size", LEGEND_FS).text(lab);
});
</script></body></html>
